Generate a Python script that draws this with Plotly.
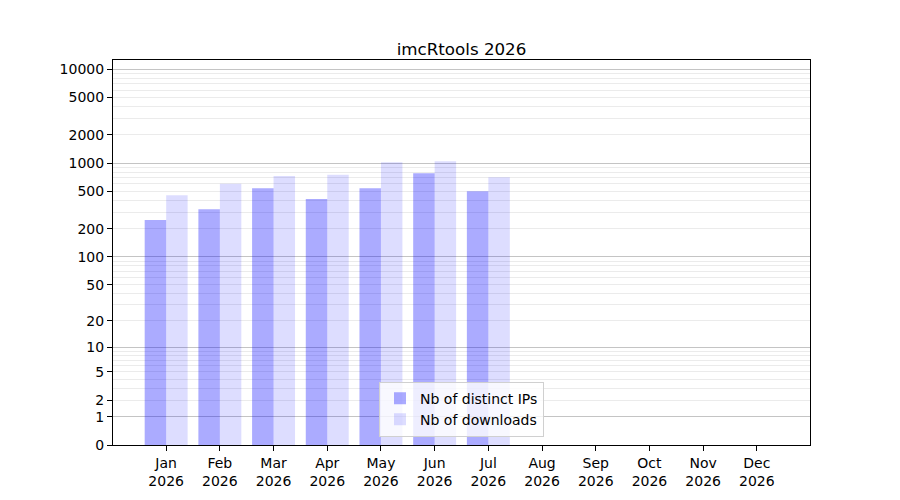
import plotly.graph_objects as go

# data
months = ['Jan', 'Feb', 'Mar', 'Apr', 'May', 'Jun',
          'Jul', 'Aug', 'Sep', 'Oct', 'Nov', 'Dec']
year = '2026'
distinct_ips = [248, 323, 542, 414, 542, 782, 503]
downloads = [456, 602, 732, 751, 1025, 1050, 710]
ytick_values = [0, 1, 2, 5, 10, 20, 50, 100, 200, 500, 1000, 2000, 5000, 10000]
decades = [1, 10, 100, 1000, 10000]

# the y axis is log10(1 + x): put the values on a log axis shifted by one
labels = [m + '<br>' + year for m in months]
pad = [None] * (len(months) - len(distinct_ips))
ips_y = [v + 1 for v in distinct_ips] + pad
dl_y = [v + 1 for v in downloads] + pad
minor_vals = [m * 10 ** d + 1 for d in range(0, 4) for m in range(2, 10)]

font = 'DejaVu Sans'

fig = go.Figure()
fig.add_trace(go.Bar(x=labels, y=ips_y, name='Nb of distinct IPs',
                     marker=dict(color='rgba(0,0,255,0.33)', line_width=0)))
fig.add_trace(go.Bar(x=labels, y=dl_y, name='Nb of downloads',
                     marker=dict(color='rgba(0,0,255,0.135)', line_width=0)))
# empty trace so the overlay axis (darker decade grid) gets drawn
fig.add_trace(go.Scatter(x=[], y=[], yaxis='y2', showlegend=False,
                         hoverinfo='skip'))

# the page body has an 8px margin, so the margins are shifted to compensate
fig.update_layout(
    width=900, height=500,
    margin=dict(l=105, r=98, t=52, b=63),
    paper_bgcolor='white', plot_bgcolor='white',
    font=dict(family=font, size=14, color='black'),
    title=dict(text='imcRtools 2026', x=0.5, xref='paper', xanchor='center',
               y=1, yref='paper', yanchor='bottom', pad=dict(b=5),
               font=dict(family=font, size=16.7, color='black')),
    barmode='group', bargap=0.2, bargroupgap=0,
    showlegend=True,
    legend=dict(x=0.5, xanchor='center', y=0.022, yanchor='bottom',
                bgcolor='rgba(255,255,255,0.8)', bordercolor='#d0d0d0',
                borderwidth=1, font=dict(family=font, size=14),
                tracegroupgap=0),
    xaxis=dict(range=[-0.99, 11.99], showgrid=False, zeroline=False,
               showline=True, linecolor='black', linewidth=1.1, mirror=True,
               ticks='outside', ticklen=5, tickcolor='black', tickwidth=1,
               tickfont=dict(family=font, size=14)),
    yaxis=dict(type='log', range=[0, 4.099],
               tickvals=[v + 1 for v in ytick_values],
               ticktext=[str(v) for v in ytick_values],
               showgrid=True, gridcolor='#ebebeb', gridwidth=1,
               zeroline=False, showline=True, linecolor='black',
               linewidth=1.1, mirror=True,
               ticks='outside', ticklen=5, tickcolor='black', tickwidth=1,
               tickfont=dict(family=font, size=14),
               minor=dict(tickvals=minor_vals, showgrid=True,
                          gridcolor='#ebebeb', gridwidth=1, ticks='')),
    yaxis2=dict(type='log', range=[0, 4.099], overlaying='y', side='left',
                tickvals=[v + 1 for v in decades], showticklabels=False,
                ticks='', showgrid=True, gridcolor='#c4c4c4', gridwidth=1,
                zeroline=False, showline=False),
)

fig.write_html('out.html')
